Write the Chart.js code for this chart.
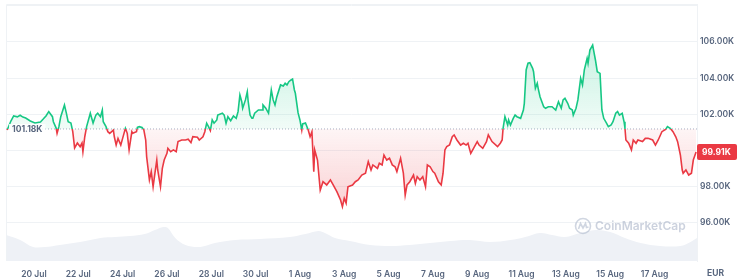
<!DOCTYPE html>
<html>
<head>
<meta charset="utf-8">
<script src="https://cdn.jsdelivr.net/npm/chart.js@4.4.1/dist/chart.umd.min.js"></script>
<style>
  html, body { margin: 0; padding: 0; background: #fff; }
  #wrap { width: 737px; height: 279px; }
</style>
</head>
<body>
<div id="wrap"><canvas id="priceChart" width="737" height="279"></canvas></div>
<script>
// Price (K EUR), hours counted from 20 Jul 00:00
const priceHours = [-29,-25,-22,-18,-15,-12,-9,-4,1,7,10,13,16,20,21,24,25,27,29,33,35,37,40,42,44,47,50,52,53,55,57,61,64,67,69,72,74,75,78,80,82,86,87,89,91,94,96,99,101,103,106,107,111,112,114,117,119,121,122,125,127,129,131,133,134,137,139,141,144,145,148,151,154,156,160,164,167,170,172,177,179,183,185,187,189,191,193,195,198,199,204,206,208,210,213,216,219,221,223,225,226,229,231,232,234,236,237,239,243,247,248,251,254,257,259,261,263,267,270,272,274,276,278,280,282,283,286,288,290,291,294,297,299,301,303,304,307,310,313,317,321,324,328,332,334,336,338,340,345,348,351,355,359,362,365,367,372,374,377,379,382,385,388,391,393,397,400,402,404,407,411,413,415,418,421,424,426,429,432,434,438,441,443,445,447,450,453,455,458,462,465,468,470,473,476,480,482,486,490,492,496,502,505,507,508,510,513,514,516,519,521,523,527,530,531,533,535,537,540,541,543,545,546,548,552,554,557,561,565,568,571,573,575,578,580,583,584,587,589,592,594,596,599,600,602,605,606,608,610,613,615,617,620,622,625,627,630,632,634,637,639,640,641,644,647,649,652,654,659,662,665,670,673,676,680,684,686,689,692,695,697,700,702,703,706,709,712,714,717];
const prices = [101.12,101.62,101.90,101.85,101.94,101.84,101.79,101.62,101.51,101.57,101.73,101.90,102.14,101.86,101.58,101.23,100.94,101.31,101.86,102.51,102.07,101.58,101.51,101.03,100.13,100.40,100.20,100.40,99.92,100.75,101.31,102.05,101.51,101.95,102.05,101.86,102.23,101.58,101.31,101.03,100.94,101.12,100.75,100.29,100.66,100.29,100.66,101.22,100.94,100.02,101.03,100.94,101.03,101.27,101.31,101.27,101.12,100.57,99.65,98.36,98.82,97.98,98.73,99.46,98.91,97.98,99.00,99.46,99.83,100.11,99.92,100.02,99.92,100.48,100.57,100.57,100.61,100.42,100.75,100.72,100.57,100.75,101.03,101.50,101.31,101.09,101.68,101.50,101.68,101.95,102.05,101.95,101.50,101.86,101.64,101.90,101.77,102.14,103.06,102.69,102.33,102.79,103.24,102.69,101.95,101.77,101.77,102.05,102.23,102.23,102.51,102.33,102.05,103.34,102.79,102.51,102.97,103.62,103.56,103.71,103.62,103.80,103.89,103.95,103.34,103.17,102.07,101.68,101.12,101.46,101.51,101.12,100.75,101.03,98.82,100.02,99.46,97.80,98.26,98.08,98.36,98.08,97.71,97.25,96.88,97.34,97.07,97.98,98.08,98.26,98.36,98.63,98.73,99.37,98.91,99.19,99.00,99.28,99.19,99.74,99.46,99.56,99.19,99.09,98.82,99.56,98.73,97.52,98.08,98.26,98.63,98.17,98.54,98.36,98.54,97.98,99.19,99.09,98.82,98.73,98.26,98.08,98.73,100.02,100.20,100.29,100.75,100.85,100.57,100.29,100.39,100.29,100.39,99.83,100.11,100.48,100.29,100.11,100.48,100.85,100.48,100.20,100.39,100.57,101.22,101.86,101.40,101.68,101.40,101.77,101.95,101.86,101.77,102.23,102.60,104.45,104.82,104.85,104.54,104.35,103.43,103.71,103.43,102.97,102.41,102.33,102.41,102.41,102.23,102.69,102.33,102.79,102.88,102.60,102.33,102.23,101.95,102.33,102.79,103.99,103.62,104.45,105.09,104.82,105.55,105.83,105.55,105.00,104.35,104.26,102.23,101.77,101.50,101.31,101.40,101.58,102.05,102.14,101.95,102.05,101.58,101.22,100.57,100.39,100.02,100.57,100.39,100.57,100.48,100.66,100.66,100.57,100.29,100.57,101.03,101.16,101.31,101.22,101.03,100.75,100.48,99.74,98.91,98.73,98.91,98.63,98.73,99.46,99.91];

// Volume (relative units)
const volumeHours = [-30,-15,-1,12,28,50,72,88,104,120,131,140,145,153,164,180,196,218,245,277,294,308,315,326,342,364,386,407,429,451,472,494,516,532,548,561,575,592,608,624,640,657,678,700,711,718];
const volumes = [26,21,14,14,16,19,23,24,25,27,31,34,33,23,16,14,18,21,22,24,27,30,28,23,20,16,15,16,18,20,21,19,21,24,28,26,24,28,31,29,23,18,15,15,19,23];

const dateLabels = ["20 Jul","22 Jul","24 Jul","26 Jul","28 Jul","30 Jul","1 Aug","3 Aug","5 Aug","7 Aug","9 Aug","11 Aug","13 Aug","15 Aug","17 Aug"];
const labelStepHours = 48;

const BASE = 101.18;   // opening price, dotted line
const LAST = 99.91;    // current price badge
const X_MIN = -30.3, X_MAX = 718;

const GREEN = "#16c784";
const RED = "#ea3943";
const GRID = "#eff2f5";
const TEXT = "#58667e";
const FONT = "Inter, 'Noto Sans', sans-serif";

// Splits line / fill colour at the baseline
function splitGradient(ctx, area, yScale, topCol, baseTop, baseBot, botCol) {
  const g = ctx.createLinearGradient(0, area.top, 0, area.bottom);
  const h = area.bottom - area.top;
  const stop = Math.min(Math.max((yScale.getPixelForValue(BASE) - area.top) / h, 0), 1);
  g.addColorStop(0, topCol);
  g.addColorStop(stop, baseTop);
  g.addColorStop(stop, baseBot);
  g.addColorStop(1, botCol);
  return g;
}

const overlay = {
  id: "overlay",
  beforeDatasetsDraw(chart) {
    const { ctx, chartArea } = chart;
    ctx.save();
    ctx.strokeStyle = GRID;
    ctx.lineWidth = 1;
    ctx.beginPath();
    ctx.moveTo(chartArea.left + 0.5, chartArea.bottom);
    ctx.lineTo(chartArea.left + 0.5, chartArea.top + 0.5);
    ctx.lineTo(chartArea.right, chartArea.top + 0.5);
    ctx.stroke();
    ctx.restore();
  },
  afterDatasetsDraw(chart) {
    const { ctx, chartArea, scales } = chart;
    const yb = scales.y.getPixelForValue(BASE);
    ctx.save();
    // baseline label
    ctx.font = "700 8.5px " + FONT;
    const txt = "101.18K";
    const w = ctx.measureText(txt).width;
    ctx.fillStyle = "rgba(255,255,255,0.85)";
    ctx.fillRect(chartArea.left + 3, yb - 5, w + 6, 11);
    ctx.fillStyle = TEXT;
    ctx.textBaseline = "middle";
    ctx.fillText(txt, chartArea.left + 6, yb + 0.5);

    // watermark
    const wx = chartArea.right - 114, wy = chartArea.bottom - 35;
    ctx.strokeStyle = "rgba(170,180,200,0.55)";
    ctx.lineWidth = 1.6;
    ctx.beginPath();
    ctx.arc(wx, wy, 7.5, 0, Math.PI * 2);
    ctx.stroke();
    ctx.beginPath();
    ctx.moveTo(wx - 4.5, wy + 3);
    ctx.lineTo(wx - 2.5, wy - 2.5);
    ctx.lineTo(wx, wy + 2);
    ctx.lineTo(wx + 2.5, wy - 2.5);
    ctx.lineTo(wx + 3.5, wy + 1.5);
    ctx.lineTo(wx + 5.5, wy + 1);
    ctx.stroke();
    ctx.fillStyle = "rgba(170,180,200,0.6)";
    ctx.font = "600 12px " + FONT;
    ctx.fillText("CoinMarketCap", wx + 12, wy + 0.5);
    ctx.restore();
  },
  afterDraw(chart) {
    const { ctx, chartArea, scales } = chart;
    const yl = scales.y.getPixelForValue(LAST);
    ctx.save();
    ctx.fillStyle = RED;
    ctx.beginPath();
    ctx.roundRect(chartArea.right, yl - 8, chart.width - chartArea.right, 16, 2);
    ctx.fill();
    ctx.fillStyle = "#fff";
    ctx.font = "700 8.5px " + FONT;
    ctx.textBaseline = "middle";
    ctx.fillText("99.91K", chartArea.right + 5, yl + 0.5);
    ctx.fillStyle = TEXT;
    ctx.fillText("EUR", chartArea.right + 10, chart.height - 6);
    ctx.restore();
  }
};

const priceData = priceHours.slice(0, prices.length).map((h, i) => ({ x: h, y: prices[i] }));
const volumeData = volumeHours.map((h, i) => ({ x: h, y: volumes[i] }));

new Chart(document.getElementById("priceChart"), {
  type: "line",
  data: {
    datasets: [
      {
        label: "Price",
        data: priceData,
        order: 0,
        borderWidth: 1.6,
        pointRadius: 0,
        tension: 0,
        borderColor: (c) => {
          const { chart } = c;
          if (!chart.chartArea) return GREEN;
          return splitGradient(chart.ctx, chart.chartArea, chart.scales.y, GREEN, GREEN, RED, RED);
        },
        backgroundColor: (c) => {
          const { chart } = c;
          if (!chart.chartArea) return "rgba(22,199,132,0.2)";
          return splitGradient(chart.ctx, chart.chartArea, chart.scales.y,
            "rgba(22,199,132,0.32)", "rgba(22,199,132,0.06)",
            "rgba(234,57,67,0.05)", "rgba(234,57,67,0.35)");
        },
        fill: { target: { value: BASE } }
      },
      {
        label: "Open",
        data: [{ x: X_MIN, y: BASE }, { x: X_MAX, y: BASE }],
        order: 1,
        borderColor: "#a6afc2",
        borderWidth: 1,
        borderDash: [1, 2],
        pointRadius: 0,
        fill: false
      },
      {
        label: "Volume",
        data: volumeData,
        yAxisID: "y2",
        order: 2,
        borderWidth: 0,
        pointRadius: 0,
        tension: 0.35,
        backgroundColor: "#eef1f6",
        fill: "origin"
      }
    ]
  },
  options: {
    responsive: false,
    animation: false,
    devicePixelRatio: 1,
    layout: { padding: { left: 6, top: 4, right: 0, bottom: 0 } },
    plugins: { legend: { display: false }, tooltip: { enabled: false } },
    scales: {
      x: {
        type: "linear",
        min: X_MIN,
        max: X_MAX,
        afterBuildTicks: (scale) => {
          scale.ticks = dateLabels.map((_, i) => ({ value: i * labelStepHours }));
        },
        afterFit: (scale) => { scale.height = 18; scale.paddingLeft = 0; scale.paddingRight = 0; },
        grid: { display: false, drawTicks: false },
        border: { display: false },
        ticks: {
          autoSkip: false,
          maxRotation: 0,
          padding: 8,
          color: TEXT,
          font: { family: FONT, size: 8.5, weight: "600" },
          callback: (v) => dateLabels[Math.round(v / labelStepHours)]
        }
      },
      y: {
        position: "right",
        min: 93.87,
        max: 108.1,
        afterBuildTicks: (scale) => {
          const t = [];
          for (let v = 94; v <= 108; v += 2) t.push({ value: v });
          scale.ticks = t;
        },
        afterFit: (scale) => { scale.width = 40; scale.paddingTop = 0; scale.paddingBottom = 0; },
        grid: {
          drawTicks: false,
          color: (c) => (c.tick && c.tick.value < 95 ? "rgba(0,0,0,0)" : GRID)
        },
        border: { display: true, color: GRID },
        ticks: {
          padding: 3,
          color: TEXT,
          font: { family: FONT, size: 8.5, weight: "600" },
          callback: (v) => (v >= 95 && v <= 107 ? v.toFixed(2) + "K" : "")
        }
      },
      y2: {
        display: false,
        min: 0,
        max: 257
      }
    }
  },
  plugins: [overlay]
});
</script>
</body>
</html>
